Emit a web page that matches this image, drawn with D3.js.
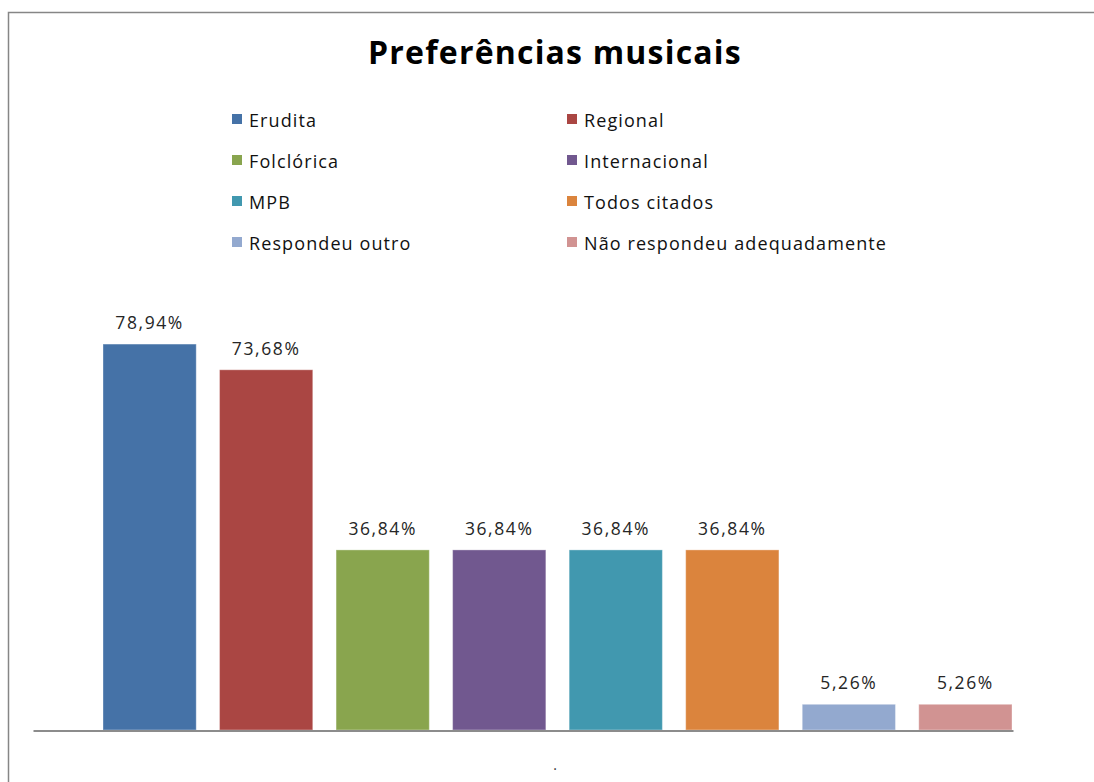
<!DOCTYPE html>
<html>
<head>
<meta charset="utf-8">
<script src="https://cdn.jsdelivr.net/npm/d3@7"></script>
<style>
  html, body { margin: 0; padding: 0; background: #fff; }
  svg { display: block; }
</style>
</head>
<body>
<svg id="chart" width="1094" height="782"></svg>
<script>
const title = "Preferências musicais";
const categories = ["Erudita", "Regional", "Folclórica", "Internacional", "MPB", "Todos citados", "Respondeu outro", "Não respondeu adequadamente"];
const values = [78.94, 73.68, 36.84, 36.84, 36.84, 36.84, 5.26, 5.26];
const colors = ["#4572A7", "#AA4643", "#89A54E", "#71588F", "#4198AF", "#DB843D", "#93A9CF", "#D19392"];
const yDomain = [0, 90];

const svg = d3.select("#chart");
const font = "'Open Sans', 'Liberation Sans', sans-serif";

// outer frame
svg.append("rect")
  .attr("x", 8.5).attr("y", 12.5)
  .attr("width", 1100).attr("height", 800)
  .attr("fill", "#fff")
  .attr("stroke", "#868686").attr("stroke-width", 1.5);

// title
svg.append("text")
  .attr("x", 555).attr("y", 64)
  .attr("text-anchor", "middle")
  .attr("font-family", font)
  .attr("font-weight", "bold")
  .attr("font-size", 32)
  .attr("letter-spacing", 1.2)
  .attr("fill", "#000")
  .text(title);

// legend
const legend = svg.append("g");
categories.forEach((c, i) => {
  const col = i % 2, row = Math.floor(i / 2);
  const x = col === 0 ? 232 : 567;
  const cy = 119 + row * 41;
  legend.append("rect")
    .attr("x", x).attr("y", cy - 5)
    .attr("width", 10).attr("height", 10)
    .attr("fill", colors[i]);
  legend.append("text")
    .attr("x", x + 17).attr("y", cy + 8)
    .attr("font-family", font)
    .attr("font-size", 18)
    .attr("letter-spacing", 1.1)
    .attr("fill", "#111")
    .text(c);
});

// scales
const x = d3.scaleBand().domain(categories).range([103, 1012]).paddingInner(0.2).paddingOuter(0);
const y = d3.scaleLinear().domain(yDomain).range([730, 290]);

// bars
svg.append("g").selectAll("rect")
  .data(categories)
  .join("rect")
  .attr("x", d => x(d))
  .attr("y", (d, i) => y(values[i]))
  .attr("width", x.bandwidth())
  .attr("height", (d, i) => y(0) - y(values[i]))
  .attr("fill", (d, i) => colors[i])
  .attr("stroke", "rgba(255,255,255,0.35)")
  .attr("stroke-width", 1);

// data labels
svg.append("g").selectAll("text")
  .data(categories)
  .join("text")
  .attr("x", d => x(d) + x.bandwidth() / 2)
  .attr("y", (d, i) => y(values[i]) - 15)
  .attr("text-anchor", "middle")
  .attr("font-family", font)
  .attr("font-size", 17.5)
  .attr("letter-spacing", 1.6)
  .attr("fill", "#262626")
  .text((d, i) => d3.format(".2f")(values[i]).replace(".", ",") + "%");

// x axis (baseline only)
const xAxisScale = d3.scaleLinear().domain([0, 1]).range([33, 1013]);
const axis = d3.axisBottom(xAxisScale).tickValues([]).tickSizeOuter(0);
svg.append("g")
  .attr("transform", `translate(0,${y(0) + 0.5})`)
  .call(axis)
  .call(g => g.select(".domain").attr("stroke", "#8c8c8c").attr("stroke-width", 2));

// stray category label "."
svg.append("text")
  .attr("x", 555).attr("y", 770)
  .attr("text-anchor", "middle")
  .attr("font-family", font)
  .attr("font-size", 14)
  .attr("fill", "#333")
  .text(".");
</script>
</body>
</html>
